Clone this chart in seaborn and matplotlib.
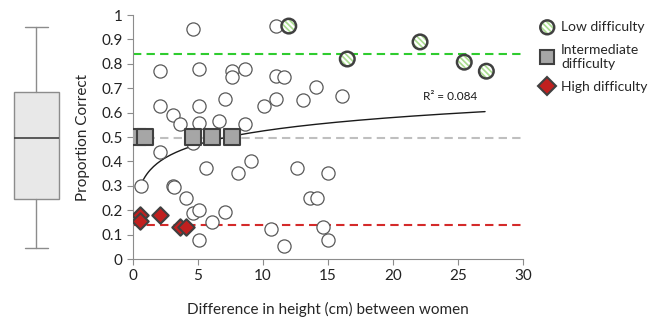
import numpy as np
import pandas as pd
import seaborn as sns
import matplotlib.pyplot as plt
from matplotlib.lines import Line2D
from matplotlib.legend_handler import HandlerTuple

sns.set_style('white')
plt.rcParams['font.family'] = ['Lato', 'DejaVu Sans']
plt.rcParams['hatch.linewidth'] = 1.6

# ----------------------------------------------------------------------
# data
# ----------------------------------------------------------------------

# all other trials (open circles)
other_x = [4.6, 11.05, 2.1, 5.1, 7.6, 7.6, 8.6, 11.05, 11.6, 14.1, 2.1, 3.1, 3.6, 5.1, 5.1,
           6.6, 7.1, 8.6, 10.1, 11.05, 13.1, 16.1, 4.6, 2.1, 0.6, 5.6, 9.1, 8.1, 12.6, 15.0,
           3.1, 3.15, 4.1, 13.6, 14.2, 4.6, 5.1, 7.1, 6.1, 10.6, 14.6, 5.1, 11.6, 15.0]
other_y = [0.945, 0.955, 0.77, 0.78, 0.77, 0.745, 0.78, 0.75, 0.745, 0.706, 0.627, 0.59, 0.553, 0.627, 0.559,
           0.566, 0.654, 0.553, 0.627, 0.654, 0.652, 0.668, 0.474, 0.44, 0.30, 0.372, 0.403, 0.354, 0.375, 0.354,
           0.30, 0.295, 0.251, 0.251, 0.251, 0.19, 0.203, 0.194, 0.152, 0.122, 0.13, 0.078, 0.053, 0.078]

low_x = [12.0, 16.5, 22.1, 25.5, 27.2]
low_y = [0.955, 0.82, 0.89, 0.807, 0.77]

mid_x = [0.4, 0.9, 4.6, 6.1, 7.6]
mid_y = [0.5, 0.5, 0.5, 0.5, 0.5]

high_x = [0.55, 0.55, 2.1, 3.6, 4.1]
high_y = [0.18, 0.155, 0.18, 0.13, 0.13]

# reference levels
low_level, mid_level, high_level = 0.84, 0.495, 0.14

# box plot summary (left panel)
box_stats = dict(whislo=0.045, q1=0.246, med=0.497, q3=0.683, whishi=0.95)

# log trendline: y = a*ln(x) + b
trend_a, trend_b = 0.0795, 0.342
r2_text = 'R² = 0.084'

# ----------------------------------------------------------------------
# figure
# ----------------------------------------------------------------------

fig = plt.figure(figsize=(6.51, 3.21), dpi=100)
ax = fig.add_axes([0.204, 0.193, 0.599, 0.760])
axb = fig.add_axes([0.012, 0.193, 0.088, 0.760])

grey = '#595959'
edge = '#404040'
green = '#a9dc8f'
hatch = '\\\\\\\\\\\\'

ax.axhline(low_level, color='#2fcc2f', ls=(0, (4, 2.5)), lw=1.5, zorder=1)
ax.axhline(mid_level, color='#bfbfbf', ls=(0, (4, 2.5)), lw=1.5, zorder=1)
ax.axhline(high_level, color='#d42a2a', ls=(0, (4, 2.5)), lw=1.5, zorder=1)

# trendline
tx = np.linspace(0.67, 27.1, 200)
ax.plot(tx, trend_a * np.log(tx) + trend_b, color='#1a1a1a', lw=1, zorder=2)
ax.text(22.3, 0.668, r2_text, fontsize=8.5, va='center', ha='left', color='#1a1a1a')

others = pd.DataFrame({'x': other_x, 'y': other_y})
sns.scatterplot(data=others, x='x', y='y', ax=ax, s=90, facecolor='white', edgecolor=grey,
                linewidth=0.9, zorder=3, legend=False)

mid = pd.DataFrame({'x': mid_x, 'y': mid_y})
sns.scatterplot(data=mid, x='x', y='y', ax=ax, marker='s', s=140, color='#a6a6a6',
                edgecolor=edge, linewidth=1.5, zorder=4, legend=False)

high = pd.DataFrame({'x': high_x, 'y': high_y})
sns.scatterplot(data=high, x='x', y='y', ax=ax, marker='D', s=70, color='#c0201f',
                edgecolor=edge, linewidth=1.5, zorder=5, legend=False)

# low difficulty: hatched fill (white stripes) then a dark outline on top
low = pd.DataFrame({'x': low_x, 'y': low_y})
sns.scatterplot(data=low, x='x', y='y', ax=ax, s=110, color=green,
                edgecolor='white', linewidth=0, zorder=5, legend=False)
ax.collections[-1].set_hatch(hatch)
sns.scatterplot(data=low, x='x', y='y', ax=ax, s=110, facecolor='none',
                edgecolor=edge, linewidth=1.8, zorder=6, legend=False)

ax.set_xlim(0, 30)
ax.set_ylim(0, 1)
ax.set_xticks(range(0, 31, 5))
ax.set_yticks(np.arange(0, 1.01, 0.1))
ax.set_yticklabels(['0', '0.1', '0.2', '0.3', '0.4', '0.5', '0.6', '0.7', '0.8', '0.9', '1'])
ax.set_xlabel('Difference in height (cm) between women', fontsize=11, labelpad=13)
ax.set_ylabel('Proportion Correct', fontsize=11, labelpad=8)
ax.tick_params(axis='both', labelsize=11, length=4, width=0.8,
               direction='out', left=True, bottom=True, colors='#8c8c8c', labelcolor='#222222')
for side in ['top', 'right']:
    ax.spines[side].set_visible(False)
for side in ['left', 'bottom']:
    ax.spines[side].set_color('#8c8c8c')
    ax.spines[side].set_linewidth(0.8)

# legend handles
h_low_fill = ax.scatter([], [], s=100, color=green, edgecolor='white', linewidth=0, hatch=hatch)
h_low_edge = ax.scatter([], [], s=100, facecolor='none', edgecolor=edge, linewidth=1.8)
h_mid = Line2D([], [], ls='', marker='s', markersize=10, markerfacecolor='#a6a6a6',
               markeredgecolor=edge, markeredgewidth=1.5)
h_high = Line2D([], [], ls='', marker='D', markersize=9, markerfacecolor='#c0201f',
                markeredgecolor=edge, markeredgewidth=1.5)
fig.legend(handles=[(h_low_fill, h_low_edge), h_mid, h_high],
           labels=['Low difficulty', 'Intermediate\ndifficulty', 'High difficulty'],
           handler_map={tuple: HandlerTuple(ndivide=1)},
           loc='upper left', bbox_to_anchor=(0.815, 0.952), frameon=False,
           fontsize=10, handletextpad=0.2, handlelength=1.6, labelspacing=0.8, borderaxespad=0)

# box plot panel
axb.bxp([box_stats], showfliers=False, widths=0.8, patch_artist=True,
        boxprops=dict(facecolor='#e8e8e8', edgecolor='#8c8c8c', linewidth=1),
        medianprops=dict(color='#404040', linewidth=1.2),
        whiskerprops=dict(color='#8c8c8c', linewidth=1),
        capprops=dict(color='#8c8c8c', linewidth=1))
axb.set_ylim(0, 1)
axb.set_xlim(0.5, 1.5)
axb.axis('off')

fig.savefig('out.png', dpi=100)
